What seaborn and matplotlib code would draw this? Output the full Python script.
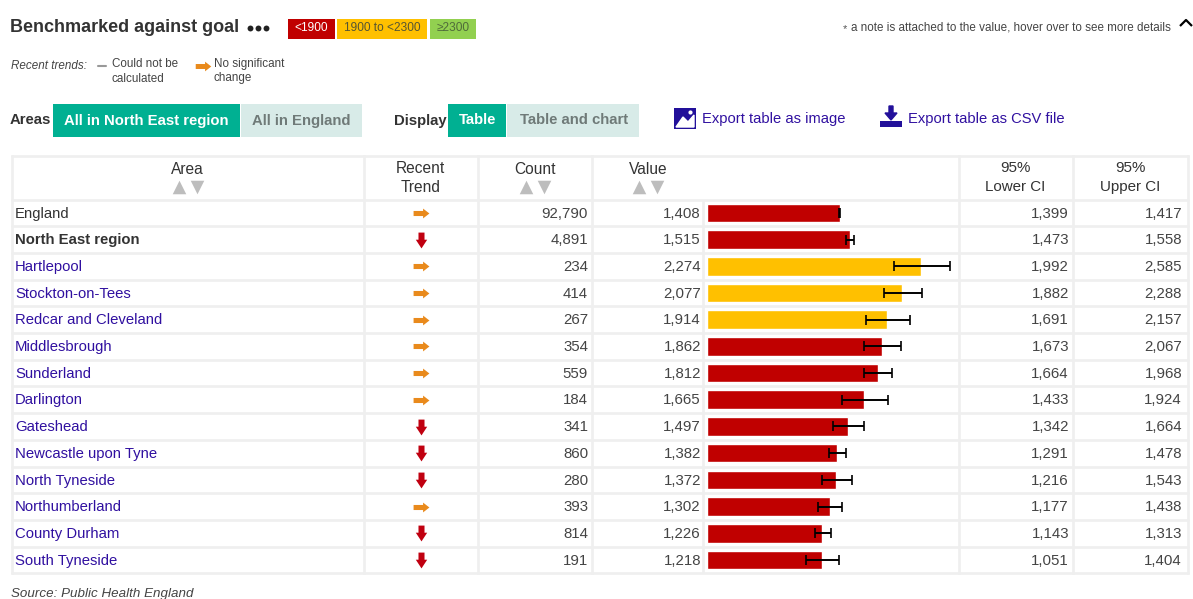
import pandas as pd
import matplotlib
matplotlib.use('Agg')
import matplotlib.pyplot as plt
from matplotlib.patches import Rectangle
import seaborn as sns

areas = ['England', 'North East region', 'Hartlepool', 'Stockton-on-Tees', 'Redcar and Cleveland',
         'Middlesbrough', 'Sunderland', 'Darlington', 'Gateshead', 'Newcastle upon Tyne',
         'North Tyneside', 'Northumberland', 'County Durham', 'South Tyneside']
trends = ['flat', 'down', 'flat', 'flat', 'flat', 'flat', 'flat', 'flat',
          'down', 'down', 'down', 'flat', 'down', 'down']
counts = [92790, 4891, 234, 414, 267, 354, 559, 184, 341, 860, 280, 393, 814, 191]
values = [1408, 1515, 2274, 2077, 1914, 1862, 1812, 1665, 1497, 1382, 1372, 1302, 1226, 1218]
lower_ci = [1399, 1473, 1992, 1882, 1691, 1673, 1664, 1433, 1342, 1291, 1216, 1177, 1143, 1051]
upper_ci = [1417, 1558, 2585, 2288, 2157, 2067, 1968, 1924, 1664, 1478, 1543, 1438, 1313, 1404]
bands = ['<1900', '<1900', '1900 to <2300', '1900 to <2300', '1900 to <2300', '<1900', '<1900',
         '<1900', '<1900', '<1900', '<1900', '<1900', '<1900', '<1900']

band_colors = {'<1900': '#C00000', '1900 to <2300': '#FFC000', '≥2300': '#92D050'}

sns.set_style('white')
plt.rcParams['font.family'] = ['Liberation Sans', 'DejaVu Sans']

W, H = 1193, 599
fig = plt.figure(figsize=(W / 100, H / 100), dpi=100, facecolor='white')

# page layer, one unit is one pixel
page = fig.add_axes([0, 0, 1, 1])
page.set_xlim(0, W)
page.set_ylim(H, 0)
page.axis('off')

TEXT = '#333333'
LINK = '#3010A0'
GRID = '#EFEFEF'
TEAL = '#00B092'
PALE = '#D8EBE8'
GREY_TXT = '#6F7A78'
NUM = '#444444'


def box(x0, y0, x1, y1, color):
    page.add_patch(Rectangle((x0, y0), x1 - x0, y1 - y0, facecolor=color, edgecolor='none'))


# header strip
page.text(10, 27, 'Benchmarked against goal', fontsize=13, fontweight='bold', color=TEXT, va='center')
for x in [250, 258, 266]:
    page.scatter(x, 27.5, s=18, color='#222222', linewidths=0)
box(288, 19, 335, 39, '#C00000')
box(337, 19, 427, 39, '#FFC000')
box(430, 19, 476, 39, '#92D050')
page.text(311.5, 28, '<1900', fontsize=8.6, color='white', ha='center', va='center')
page.text(382, 28, '1900 to <2300', fontsize=8.6, color='#555533', ha='center', va='center')
page.text(453, 28, '≥2300', fontsize=8.6, color='#4F6B3A', ha='center', va='center')
page.text(845, 29, '*', fontsize=8, color='#555555', ha='center', va='center')
page.text(851, 27, 'a note is attached to the value, hover over to see more details',
          fontsize=8.4, color=NUM, va='center')
page.plot([1180, 1186, 1192], [26, 20, 26], color='black', lw=1.6, solid_capstyle='butt')

# recent trends key
page.text(11, 66, 'Recent trends:', fontsize=8.4, style='italic', color=NUM, va='center')
page.plot([98, 106], [66, 66], color='#999999', lw=1.5)
page.text(112, 64, 'Could not be', fontsize=8.4, color=NUM, va='center')
page.text(112, 78.5, 'calculated', fontsize=8.4, color=NUM, va='center')
page.text(214, 64, 'No significant', fontsize=8.4, color=NUM, va='center')
page.text(214, 78.5, 'change', fontsize=8.4, color=NUM, va='center')

# buttons
page.text(10, 120.5, 'Areas', fontsize=10.7, fontweight='bold', color=TEXT, va='center')
box(53, 104, 240, 137, TEAL)
box(241, 104, 362, 137, PALE)
page.text(146.5, 120.5, 'All in North East region', fontsize=10.7, fontweight='bold', color='white',
          ha='center', va='center')
page.text(301.5, 120.5, 'All in England', fontsize=10.7, fontweight='bold', color=GREY_TXT,
          ha='center', va='center')
page.text(394, 120.5, 'Display', fontsize=10.7, fontweight='bold', color=TEXT, va='center')
box(448, 104, 506, 137, TEAL)
box(507, 104, 639, 137, PALE)
page.text(478, 120.5, 'Table', fontsize=10.7, fontweight='bold', color='white', ha='center', va='center')
page.text(574, 120.5, 'Table and chart', fontsize=10.7, fontweight='bold', color=GREY_TXT,
          ha='center', va='center')

# export links with their small icons
box(674, 108, 696, 129, '#22109A')
page.fill([676, 683, 688, 694, 694, 676], [127, 117, 122, 115, 127, 127], color='white')
page.scatter(690, 112, s=9, color='white', linewidths=0)
page.text(702, 119.5, 'Export table as image', fontsize=10.6, color=LINK, va='center')
box(880, 121, 902, 127, '#22109A')
page.fill([889, 893, 893, 897, 891, 885, 889], [106, 106, 113, 113, 120, 113, 113], color='#22109A')
page.text(908, 119.5, 'Export table as CSV file', fontsize=10.6, color=LINK, va='center')

# table grid
top, head, pitch = 155.5, 199.5, 26.7
bottom = head + pitch * len(areas)
columns = [12, 363.5, 477.5, 592, 958.5, 1072.5, 1188]
for x in columns:
    page.plot([x, x], [top, bottom], color=GRID, lw=1.9, solid_capstyle='projecting')
page.plot([703, 703], [head, bottom], color=GRID, lw=1.9, solid_capstyle='butt')
page.plot([12, 1188], [top, top], color=GRID, lw=1.9)
for i in range(len(areas) + 1):
    page.plot([12, 1188], [head + i * pitch] * 2, color=GRID, lw=1.9)

# column headers
for x, label in [(187, 'Area'), (535, 'Count'), (648, 'Value')]:
    page.text(x, 170, label, fontsize=11.2, color=TEXT, ha='center', va='center')
page.text(420.5, 168.5, 'Recent', fontsize=11.2, color=TEXT, ha='center', va='center')
page.text(420.5, 187, 'Trend', fontsize=11.2, color=TEXT, ha='center', va='center')
for x, label in [(1015.5, 'Lower CI'), (1130, 'Upper CI')]:
    page.text(x, 168.5, '95%', fontsize=10.9, color=TEXT, ha='center', va='center')
    page.text(x, 187, label, fontsize=10.9, color=TEXT, ha='center', va='center')
for x in [179, 526, 639]:
    page.scatter(x, 187, marker='^', s=95, color='#BDBDBD', linewidths=0)
    page.scatter(x + 18, 187, marker='v', s=95, color='#BDBDBD', linewidths=0)

# trend markers
right_arrow = [(-1, -0.32), (0.2, -0.32), (0.2, -0.62), (1, 0), (0.2, 0.62), (0.2, 0.32), (-1, 0.32)]
down_arrow = [(-0.38, 1), (0.38, 1), (0.38, 0.1), (0.72, 0.1), (0, -1), (-0.72, 0.1), (-0.38, 0.1)]
page.scatter(203, 65.5, marker=right_arrow, s=125, color='#E98A1C', linewidths=0)

# table rows
for i, area in enumerate(areas):
    y = head + (i + 0.5) * pitch + 0.7
    color = TEXT if i == 0 else LINK
    weight = 'normal'
    if i == 1:
        color, weight = TEXT, 'bold'
    page.text(15, y, area, fontsize=10.7, color=color, fontweight=weight, va='center')
    if trends[i] == 'flat':
        page.scatter(421, y - 0.7, marker=right_arrow, s=130, color='#E98A1C', linewidths=0)
    else:
        page.scatter(421, y - 0.5, marker=down_arrow, s=130, color='#C00010', linewidths=0)
    page.text(588, y, f'{counts[i]:,}', fontsize=10.8, color=NUM, ha='right', va='center')
    page.text(701, y, f'{values[i]:,}', fontsize=10.8, color=NUM, ha='right', va='center')
    page.text(1069, y, f'{lower_ci[i]:,}', fontsize=10.8, color=NUM, ha='right', va='center')
    page.text(1182, y, f'{upper_ci[i]:,}', fontsize=10.8, color=NUM, ha='right', va='center')

page.text(11, 593.5, 'Source: Public Health England', fontsize=9.6, style='italic', color=NUM, va='center')

# bars in the Value column
df = pd.DataFrame({'Area': areas, 'Value': values, 'Band': bands})
ax = fig.add_axes([707.2 / W, 1 - bottom / H, 250 / W, (bottom - head) / H])
ax.patch.set_alpha(0)
sns.barplot(data=df, x='Value', y='Area', hue='Band', palette=band_colors, dodge=False,
            width=0.7, saturation=1, legend=False, ax=ax)
ax.errorbar(values, range(len(areas)),
            xerr=[[v - l for v, l in zip(values, lower_ci)], [u - v for u, v in zip(upper_ci, values)]],
            fmt='none', ecolor='black', elinewidth=1.4, capsize=3.8, capthick=1.2)
ax.set_xlim(0, 250 / 0.094)
ax.set_ylim(len(areas) - 0.5, -0.5)
ax.axis('off')

plt.savefig('out.png', dpi=100)
